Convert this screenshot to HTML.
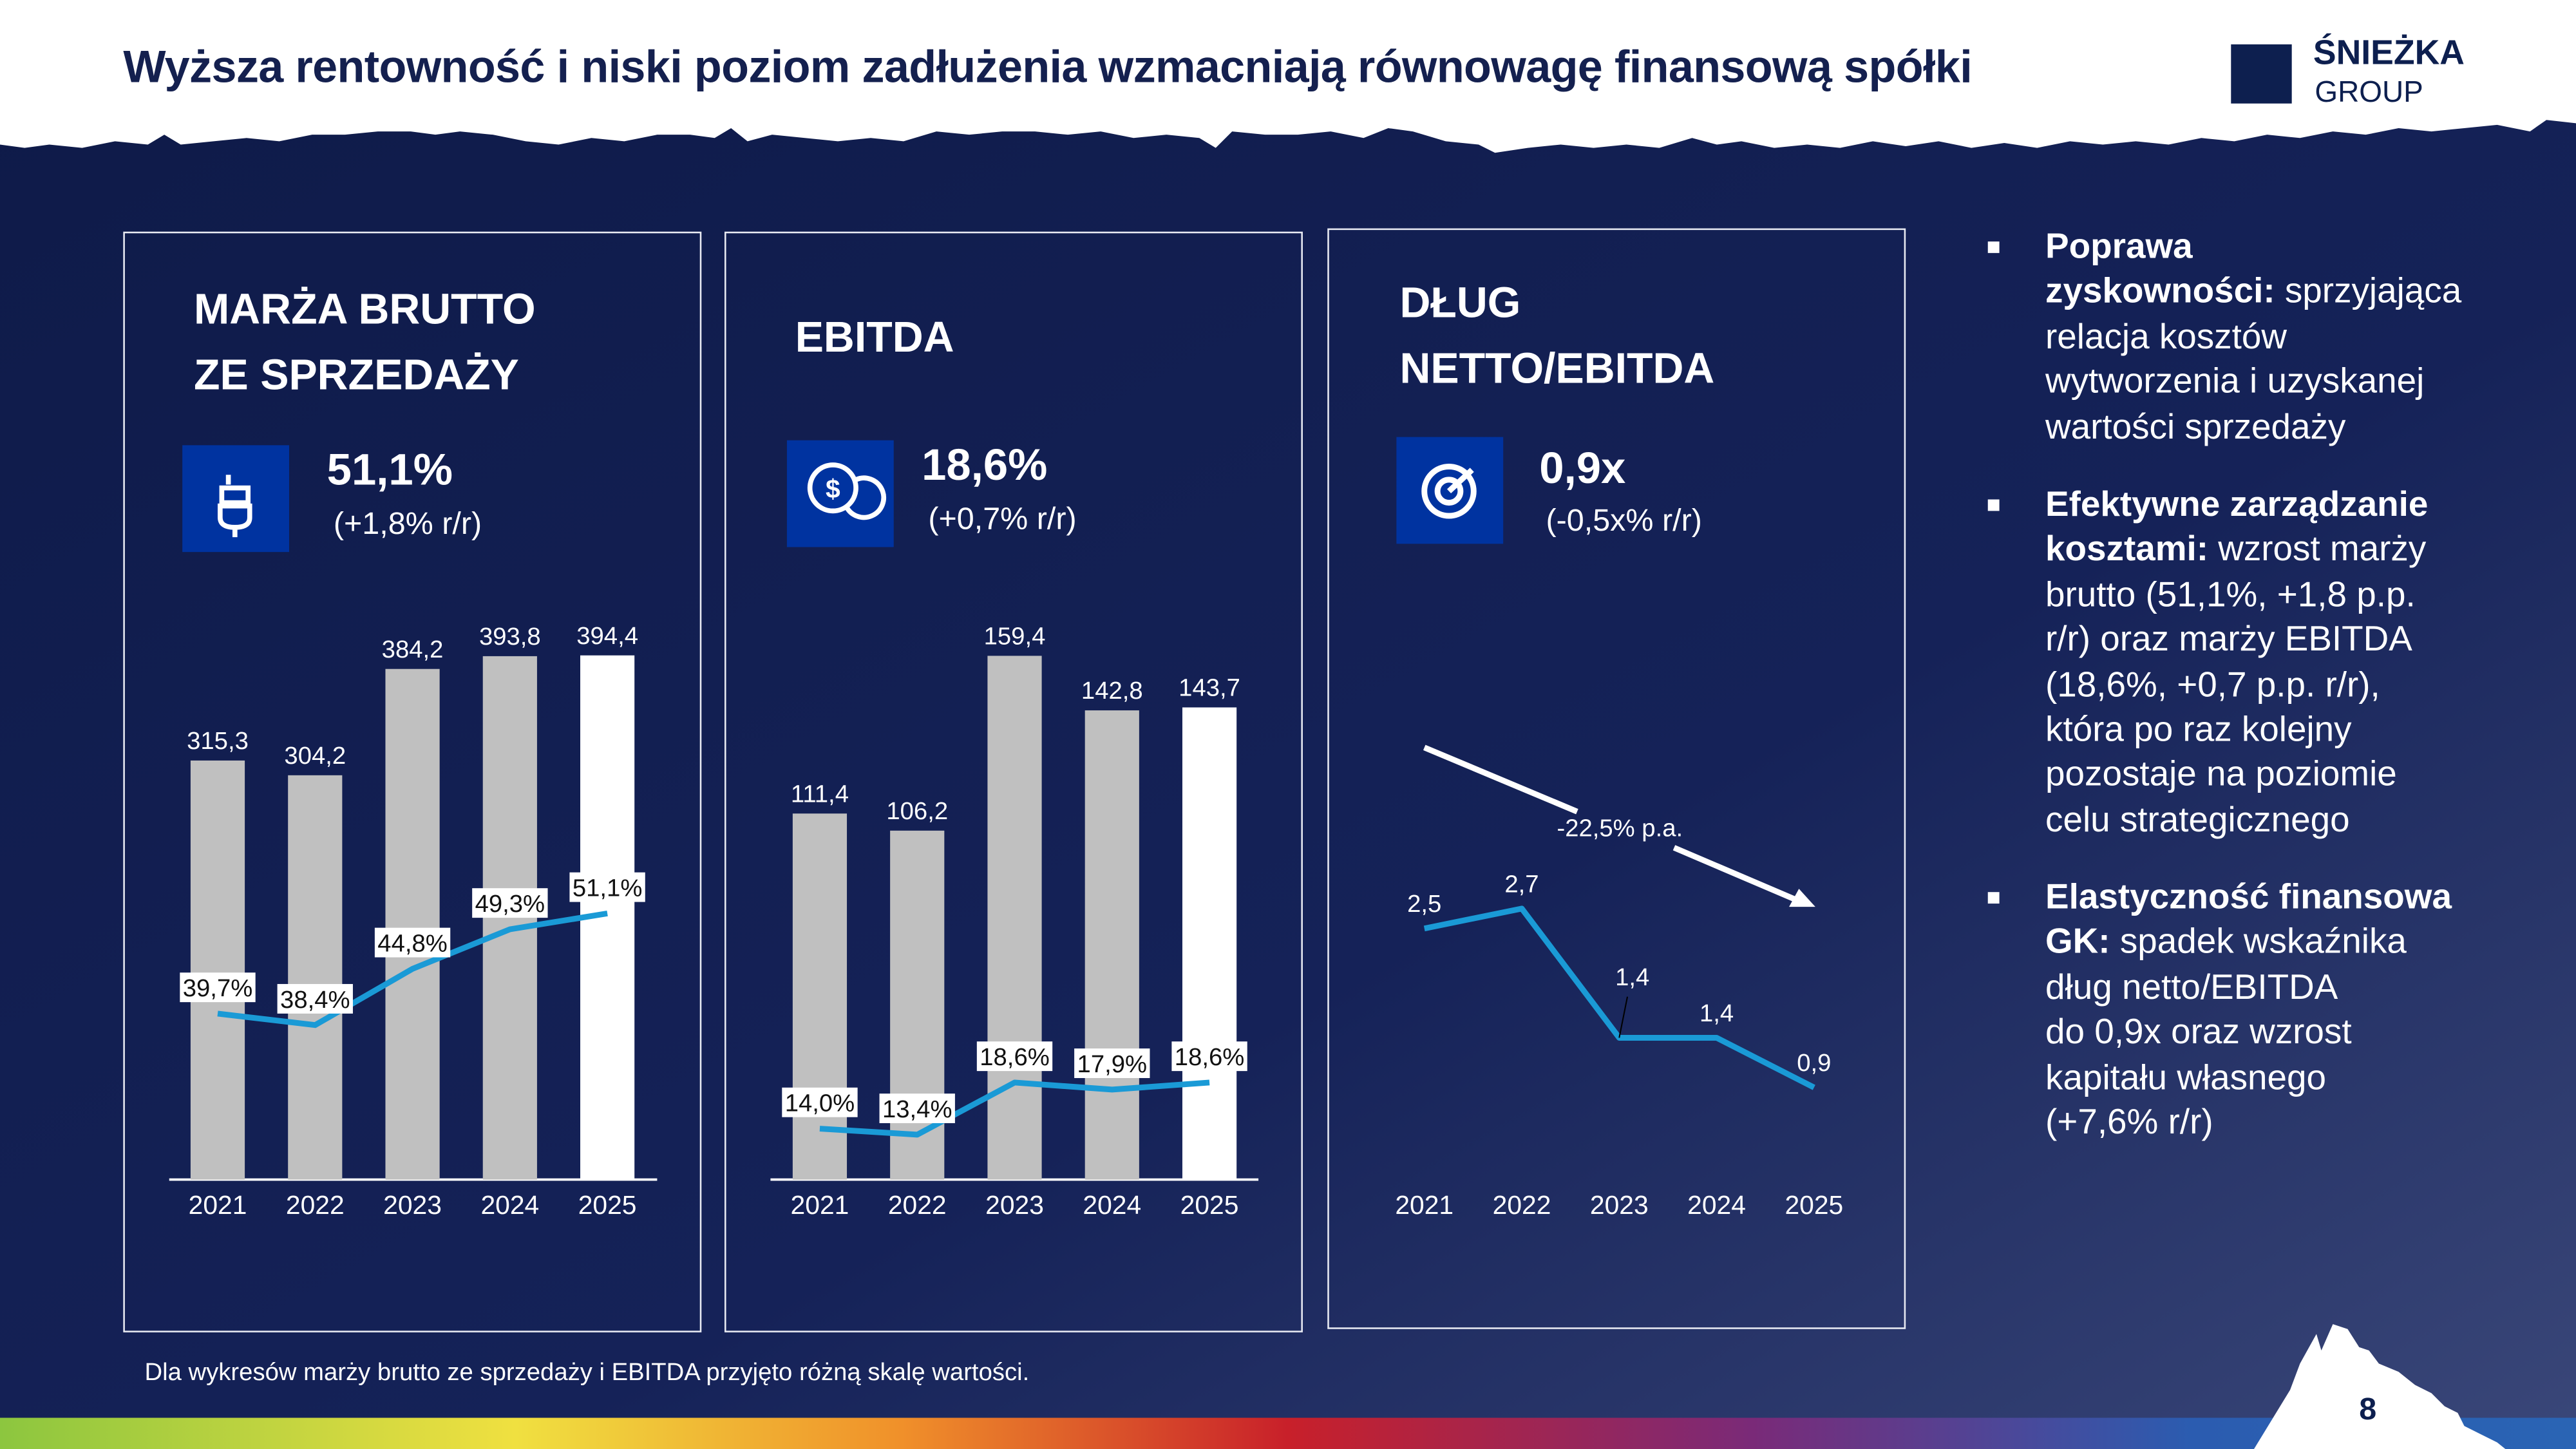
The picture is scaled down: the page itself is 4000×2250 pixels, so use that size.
<!DOCTYPE html>
<html><head><meta charset="utf-8">
<style>
html,body{margin:0;padding:0;width:4000px;height:2250px;overflow:hidden;background:#fff}
#stage{position:absolute;left:0;top:0;width:1568px;height:882px;transform:scale(2.5510204);transform-origin:0 0;font-family:"Liberation Sans","Noto Sans CJK SC",sans-serif;overflow:hidden}
.abs{position:absolute}
.panel{position:absolute;border:1px solid #e8eaf2;box-sizing:border-box}
.ptitle{position:absolute;color:#fff;font-size:26px;font-weight:bold;line-height:40px}
.icon{position:absolute;width:65px;height:65px;background:#0033a0}
.kpi{position:absolute;color:#fff;font-size:27px;font-weight:bold}
.sub{position:absolute;color:#fff;font-size:19px}
.bul{position:absolute;left:1245px;color:#fff;font-size:21.5px;line-height:27.4px;white-space:nowrap}
.sq{position:absolute;left:1210px;width:7px;height:7px;background:#fff}
</style></head>
<body>
<div id="stage">
<svg class="abs" style="left:0;top:0" width="1568" height="882">
<defs>
<linearGradient id="bg" x1="0" y1="0" x2="1" y2="1"><stop offset="0" stop-color="#0e1a48"/><stop offset="0.6" stop-color="#152258"/><stop offset="1" stop-color="#3a4779"/></linearGradient>
<linearGradient id="rb" x1="0" x2="1"><stop offset="0" stop-color="#8cc63f"/><stop offset="0.2" stop-color="#f0e040"/><stop offset="0.35" stop-color="#f0902a"/><stop offset="0.5" stop-color="#c8202a"/><stop offset="0.68" stop-color="#7a2a78"/><stop offset="0.85" stop-color="#2b5cb0"/><stop offset="1" stop-color="#2a64b4"/></linearGradient>
</defs>
<rect width="1568" height="882" fill="url(#bg)"/>
<path d="M0,0 H1568 V75 L1550,73 L1540,80 L1520,76 L1500,78 L1480,80 L1460,78 L1440,82 L1420,80 L1400,84 L1380,82 L1360,86 L1340,84 L1320,88 L1300,86 L1280,88 L1260,86 L1240,90 L1220,87 L1200,90 L1180,86 L1160,89 L1140,86 L1120,90 L1100,88 L1080,90 L1060,86 L1045,88 L1030,84 L1010,90 L990,88 L970,90 L950,88 L930,90 L910,93 L900,88 L880,86 L860,80 L845,78 L830,84 L810,80 L790,82 L770,82 L750,80 L740,90 L730,84 L710,82 L690,84 L670,80 L650,82 L630,80 L610,80 L590,82 L570,80 L550,86 L530,84 L510,86 L490,84 L470,82 L455,86 L445,78 L435,84 L420,82 L400,82 L380,86 L360,84 L340,88 L320,86 L300,82 L280,80 L265,82 L250,80 L230,80 L210,82 L190,82 L170,86 L150,84 L130,86 L110,88 L100,82 L90,88 L70,86 L50,90 L30,88 L15,90 L0,88 Z" fill="#fff"/>
<rect x="0" y="863" width="1568" height="19" fill="url(#rb)"/>
<path d="M1372,882 L1394,846 L1400,830 L1410,812 L1413,822 L1420,806 L1429,809 L1436,820 L1442,822 L1448,830 L1460,835 L1470,843 L1480,848 L1488,856 L1496,860 L1500,868 L1508,872 L1520,878 L1525,882 Z" fill="#fff"/>
</svg>

<div class="abs" style="left:75px;top:25px;font-size:27.5px;letter-spacing:-0.25px;font-weight:bold;color:#14204f;white-space:nowrap">Wyższa rentowność i niski poziom zadłużenia wzmacniają równowagę finansową spółki</div>
<div class="abs" style="left:1358px;top:27px;width:37px;height:36px;background:#0d1f4f"></div>
<div class="abs" style="left:1408px;top:21px;font-size:21px;font-weight:bold;color:#0d1f4f">ŚNIEŻKA</div>
<div class="abs" style="left:1409px;top:46px;font-size:18px;color:#0d1f4f">GROUP</div>

<div class="panel" style="left:75px;top:141px;width:352px;height:670px"></div>
<div class="panel" style="left:441px;top:141px;width:352px;height:670px"></div>
<div class="panel" style="left:808px;top:139px;width:352px;height:670px"></div>

<div class="ptitle" style="left:118px;top:168px">MARŻA BRUTTO<br>ZE SPRZEDAŻY</div>
<div class="ptitle" style="left:484px;top:185px">EBITDA</div>
<div class="ptitle" style="left:852px;top:164px">DŁUG<br>NETTO/EBITDA</div>

<div class="icon" style="left:111px;top:271px">
<svg width="65" height="65"><g fill="none" stroke="#fff" stroke-width="3"><line x1="28" y1="18" x2="28" y2="24"/><rect x="24" y="26" width="16" height="9"/><path d="M23,37 V44 Q23,50 32,50 Q41,50 41,44 V37 Z"/><line x1="32" y1="50" x2="32" y2="56"/></g></svg></div>
<div class="icon" style="left:479px;top:268px">
<svg width="65" height="65"><g fill="none" stroke="#fff" stroke-width="3"><circle cx="28" cy="29" r="14"/><path d="M36,40 A12,12 0 1 0 42,24"/></g><text x="28" y="35" font-size="16" font-weight="bold" fill="#fff" text-anchor="middle" font-family="Liberation Sans">$</text></svg></div>
<div class="icon" style="left:850px;top:266px">
<svg width="65" height="65"><g fill="none" stroke="#fff" stroke-width="3.5"><circle cx="32" cy="33" r="15"/><circle cx="32" cy="33" r="7"/><line x1="32" y1="33" x2="46" y2="20"/></g></svg></div>

<div class="kpi" style="left:199px;top:271px">51,1%</div>
<div class="sub" style="left:203px;top:309px">(+1,8% r/r)</div>
<div class="kpi" style="left:561px;top:268px">18,6%</div>
<div class="sub" style="left:565px;top:306px">(+0,7% r/r)</div>
<div class="kpi" style="left:937px;top:270px">0,9x</div>
<div class="sub" style="left:941px;top:307px">(-0,5x% r/r)</div>

<svg id="charts" class="abs" style="left:0;top:0" width="1568" height="882"></svg>

<div class="sq" style="top:147px"></div>
<div class="bul" style="top:137px"><b>Poprawa</b><br><b>zyskowności:</b> sprzyjająca<br>relacja kosztów<br>wytworzenia i uzyskanej<br>wartości sprzedaży</div>
<div class="sq" style="top:304px"></div>
<div class="bul" style="top:294px"><b>Efektywne zarządzanie</b><br><b>kosztami:</b> wzrost marży<br>brutto (51,1%, +1,8 p.p.<br>r/r) oraz marży EBITDA<br>(18,6%, +0,7 p.p. r/r),<br>która po raz kolejny<br>pozostaje na poziomie<br>celu strategicznego</div>
<div class="sq" style="top:543px"></div>
<div class="bul" style="top:533px"><b>Elastyczność finansowa</b><br><b>GK:</b> spadek wskaźnika<br>dług netto/EBITDA<br>do 0,9x oraz wzrost<br>kapitału własnego<br>(+7,6% r/r)</div>

<div class="abs" style="left:88px;top:827px;font-size:15px;color:#fff">Dla wykresów marży brutto ze sprzedaży i EBITDA przyjęto różną skalę wartości.</div>
<div class="abs" style="left:1436px;top:848px;font-size:19px;font-weight:bold;color:#0d1f4f">8</div>
</div>

<script>
const years = ["2021","2022","2023","2024","2025"];
const grossSales = [315.3, 304.2, 384.2, 393.8, 394.4];
const grossMargin = [39.7, 38.4, 44.8, 49.3, 51.1];
const ebitdaValues = [111.4, 106.2, 159.4, 142.8, 143.7];
const ebitdaMargin = [14.0, 13.4, 18.6, 17.9, 18.6];
const debtRatio = [2.5, 2.7, 1.4, 1.4, 0.9];

const NS = "http://www.w3.org/2000/svg";
const svg = document.getElementById("charts");
function mk(tag, attrs, txt) {
  const e = document.createElementNS(NS, tag);
  for (const k in attrs) e.setAttribute(k, attrs[k]);
  if (txt !== undefined) e.textContent = txt;
  svg.appendChild(e);
  return e;
}
const fmt = v => v.toFixed(1).replace(".", ",");
const FONT = "Liberation Sans, sans-serif";

function xPos(x0, i) { return x0 + i * 59.3; }

function barChart(x0, axL, axR, barScale, bars, lineY, line, name) {
  const base = 718;
  const ax = mk("line", {x1: axL, x2: axR, y1: base, y2: base, stroke: "#fff", "stroke-width": 1.5});
  
  
  bars.forEach((v, i) => {
    const cx = xPos(x0, i), h = v * barScale;
    const r = mk("rect", {x: cx - 16.5, y: base - h, width: 33, height: h, fill: i === bars.length - 1 ? "#ffffff" : "#c0c0c0"});
    
    
    const t = mk("text", {x: cx, y: base - h - 7, fill: "#fff", "font-size": 15, "text-anchor": "middle", "font-family": FONT}, fmt(v));
    
    
    const yl = mk("text", {x: cx, y: 739, fill: "#fff", "font-size": 16, "text-anchor": "middle", "font-family": FONT}, years[i]);
    
    
  });
  const pts = line.map((v, i) => xPos(x0, i) + "," + lineY(v)).join(" ");
  const pl = mk("polyline", {points: pts, fill: "none", stroke: "#1a9ad6", "stroke-width": 3.5, "stroke-linejoin": "round"});
  
  
  line.forEach((v, i) => {
    const cx = xPos(x0, i), cy = lineY(v) - 16;
    const b = mk("rect", {x: cx - 23, y: cy - 9, width: 46, height: 18, fill: "#fff"});
    
    
    const t = mk("text", {x: cx, y: cy + 5.5, fill: "#111", "font-size": 15, "text-anchor": "middle", "font-family": FONT}, fmt(v) + "%");
    
    
  });
}
barChart(132.5, 103, 400, 0.809, grossSales, v => 829.4 - v * 5.35, grossMargin, "gross");
barChart(499, 469, 766, 2.0, ebitdaValues, v => 772.4 - v * 6.1, ebitdaMargin, "ebitda");

// Debt chart
(function(){
  const x0 = 867, yv = v => 716.4 - v * 60.5;
  const pts = debtRatio.map((v, i) => xPos(x0, i) + "," + yv(v)).join(" ");
  const pl = mk("polyline", {points: pts, fill: "none", stroke: "#1a9ad6", "stroke-width": 3.5, "stroke-linejoin": "round"});
  
  
  debtRatio.forEach((v, i) => {
    const cx = xPos(x0, i);
    const lift = (i === 2) ? 32 : 10;
    if (i === 2) {
      const ld = mk("line", {x1: cx, y1: yv(v), x2: cx + 5, y2: yv(v) - 25, stroke: "#000", "stroke-width": 0.8});
      
      
    }
    const t = mk("text", {x: cx + (i === 2 ? 8 : 0), y: yv(v) - lift, fill: "#fff", "font-size": 15, "text-anchor": "middle", "font-family": FONT}, fmt(v));
    
    
    const yl = mk("text", {x: cx, y: 739, fill: "#fff", "font-size": 16, "text-anchor": "middle", "font-family": FONT}, years[i]);
    
    
  });
  const a1 = mk("line", {x1: 867, y1: 455, x2: 960, y2: 494, stroke: "#fff", "stroke-width": 3.5});
  
  
  const a2 = mk("line", {x1: 1019, y1: 516, x2: 1094, y2: 548, stroke: "#fff", "stroke-width": 3.5});
  
  
  const ah = mk("polygon", {points: "1105,552 1089,552 1095,541", fill: "#fff"});
  
  
  const tl = mk("text", {x: 986, y: 509, fill: "#fff", "font-size": 15, "text-anchor": "middle", "font-family": FONT}, "-22,5% p.a.");
  
  
})();
</script>
</body></html>
